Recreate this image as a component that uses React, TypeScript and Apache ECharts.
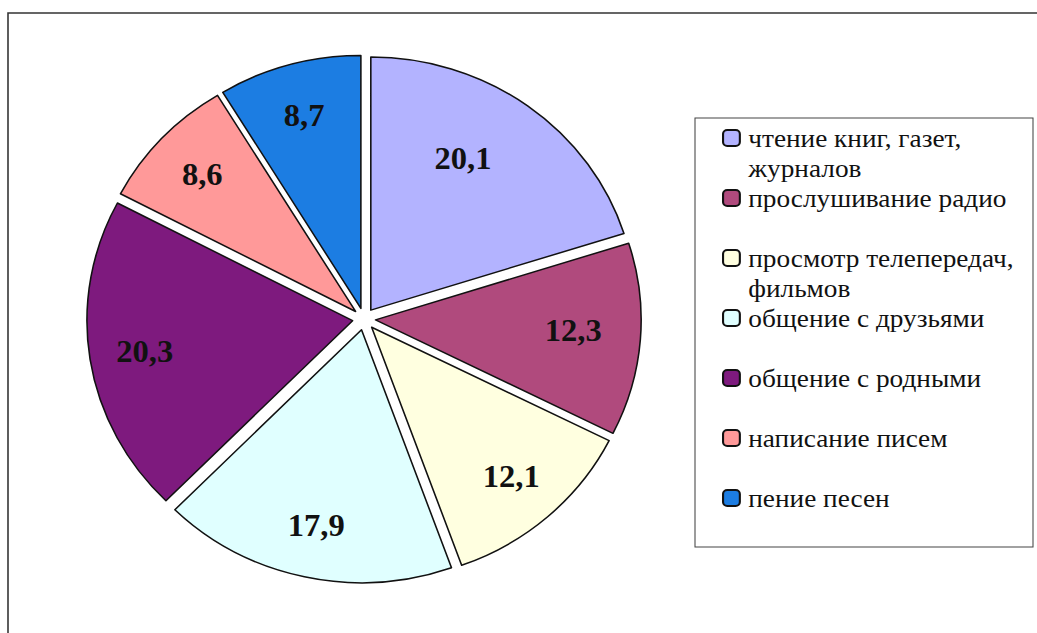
import React, { useEffect, useRef } from "react";
import * as echarts from "echarts";

const categories = [
  "чтение книг, газет,\nжурналов",
  "прослушивание радио",
  "просмотр телепередач,\nфильмов",
  "общение с друзьями",
  "общение с родными",
  "написание писем",
  "пение песен",
];
const values = [20.1, 12.3, 12.1, 17.9, 20.3, 8.6, 8.7];
const colors = ["#B3B3FF", "#B04A7D", "#FFFFE0", "#E0FFFF", "#7E1A7E", "#FF9999", "#1C7DE2"];

const SX = 1.05;
const SERIF = "Liberation Serif";

export default function App() {
  const ref = useRef<HTMLDivElement>(null);
  useEffect(() => {
    if (!ref.current) return;
    const chart = echarts.init(ref.current, null, { renderer: "svg" });
    const cx = 364 / SX;
    const cy = 319;
    const r = 253;
    const nudge: Record<number, [number, number]> = { 0: [-32, 10], 1: [-12, -5] };
    const pieData = categories.map((name, i) => ({
      name,
      value: values[i],
      selected: true,
      itemStyle: { color: colors[i] },
    }));
    const labelData = categories.map((name, i) => ({
      name,
      value: values[i],
      selected: true,
    }));
    chart.setOption({
      animation: false,
      textStyle: { fontFamily: SERIF },
      graphic: [
        {
          type: "rect",
          shape: { x: 8 / SX, y: 13, width: 2000, height: 2000 },
          style: { fill: "none", stroke: "#333", lineWidth: 1.5 },
          silent: true,
        },
        {
          type: "rect",
          shape: { x: 695 / SX, y: 118, width: (1033 - 695) / SX, height: 429 },
          style: { fill: "none", stroke: "#444", lineWidth: 1 },
          silent: true,
        },
      ],
      legend: {
        orient: "vertical",
        left: 722 / SX,
        top: 93,
        padding: 0,
        itemGap: -30,
        itemWidth: 16,
        itemHeight: 16,
        selectedMode: false,
        data: categories,
        formatter: (name: string) =>
          name.indexOf("\n") >= 0 ? " \n" + name : " \n" + name + "\n ",
        textStyle: {
          fontFamily: SERIF,
          fontSize: 26,
          color: "#111",
          lineHeight: 30,
          padding: [0, 0, 0, 3],
        },
      },
      series: [
        {
          type: "pie",
          center: [cx, cy],
          radius: [0, r],
          startAngle: 90,
          clockwise: true,
          selectedMode: "multiple",
          selectedOffset: 11,
          label: { show: false },
          labelLine: { show: false },
          itemStyle: { borderColor: "#111", borderWidth: 1.5 },
          emphasis: { disabled: true },
          data: pieData,
        },
        {
          type: "pie",
          center: [cx, cy],
          radius: [r * 0.56, r],
          startAngle: 90,
          clockwise: true,
          selectedMode: "multiple",
          selectedOffset: 11,
          silent: true,
          itemStyle: { color: "rgba(0,0,0,0)", borderWidth: 0 },
          emphasis: { disabled: true },
          labelLine: { show: false },
          label: {
            show: true,
            position: "inside",
            fontFamily: SERIF,
            fontWeight: "bold",
            fontSize: 31,
            color: "#111",
            formatter: (p: any) => String(p.value).replace(".", ","),
          },
          labelLayout: (p: any) => {
            const n = nudge[p.dataIndex];
            return n ? { dx: n[0] / SX, dy: n[1] } : {};
          },
          data: labelData,
        },
      ],
    });
    return () => chart.dispose();
  }, []);
  return (
    <div
      ref={ref}
      style={{
        position: "absolute",
        left: 0,
        top: 0,
        width: 1037 / SX,
        height: 633,
        transform: `scaleX(${SX})`,
        transformOrigin: "0 0",
        background: "#fff",
      }}
    />
  );
}
